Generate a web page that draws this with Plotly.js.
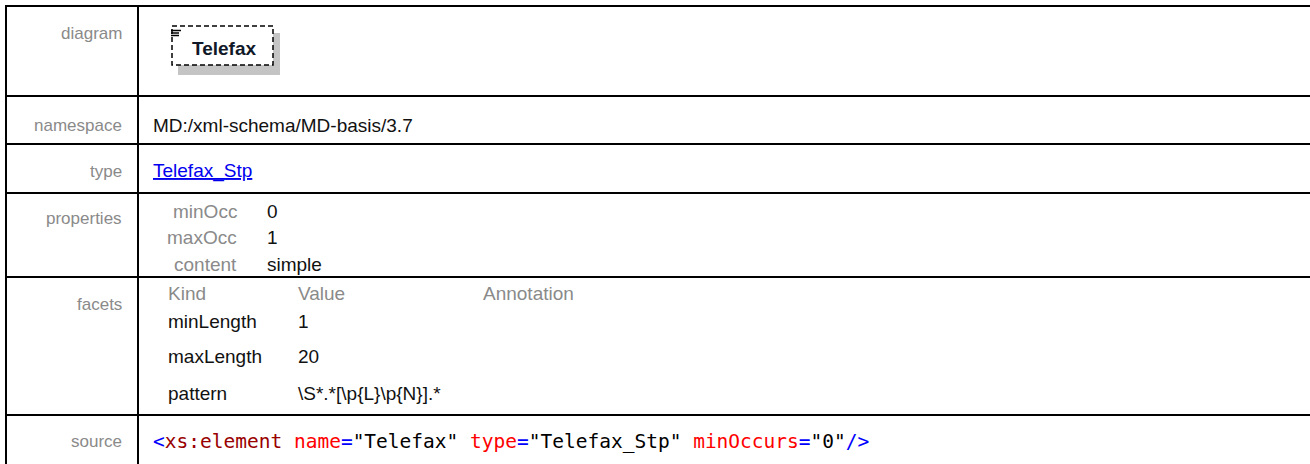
<!DOCTYPE html>
<html><head><meta charset="utf-8">
<script src="https://cdn.plot.ly/plotly-3.0.1.min.js"></script>
<style>html,body{margin:0;padding:0;background:#fff;overflow:hidden}</style>
</head><body><div id="chart" style="width:1310px;height:464px"></div>
<script>
// ---- content ----
const rowLabels = ['diagram', 'namespace', 'type', 'properties', 'facets', 'source'];
const elementName = 'Telefax';
const namespaceText = 'MD:/xml-schema/MD-basis/3.7';
const typeName = 'Telefax_Stp';
const propNames = ['minOcc', 'maxOcc', 'content'];
const propValues = ['0', '1', 'simple'];
const facetHeaders = ['Kind', 'Value', 'Annotation'];
const facetKinds = ['minLength', 'maxLength', 'pattern'];
const facetValues = ['1', '20', '\\S*.*[\\p{L}\\p{N}].*'];
const sourceTokens = ['<', 'xs:element', ' ', 'name', '=', '"Telefax"', ' ', 'type', '=', '"Telefax_Stp"', ' ', 'minOccurs', '=', '"0"', '/>'];
const sourceKinds  = ['punct', 'tag', 'space', 'attr', 'punct', 'value', 'space', 'attr', 'punct', 'value', 'space', 'attr', 'punct', 'value', 'punct'];

// ---- styling / layout ----
const W = 1310, H = 464;
const SANS = 'Liberation Sans, Arial, sans-serif';
const LABEL_FONT = {family: SANS, size: 17, color: '#8a8a8a'};
const SUBLABEL_FONT = {family: SANS, size: 19, color: '#8a8a8a'};
const TEXT_FONT = {family: SANS, size: 19, color: '#111111'};
const kindColor = {punct: '#0000ff', tag: '#990000', attr: '#ff0000', value: '#000000', space: '#000000'};

const colX = 138;
const rowLines = [6, 96, 144, 193, 277, 415];
const labelY = [33, 125, 171, 218, 304, 441];

function esc(s) { return s.replace(/&/g, '&amp;').replace(/</g, '&lt;').replace(/>/g, '&gt;'); }

const ann = [];
function addText(x, y, text, font, xanchor, yanchor) {
  ann.push({x: x, y: y, xref: 'x', yref: 'y', text: text, showarrow: false,
            xanchor: xanchor || 'left', yanchor: yanchor || 'middle', font: font,
            align: xanchor === 'right' ? 'right' : 'left'});
}

rowLabels.forEach((l, i) => addText(124, labelY[i], l, LABEL_FONT, 'right'));

// diagram box text
addText(224, 48, '<b>' + elementName + '</b>', {family: SANS, size: 19, color: '#101828'}, 'center');

addText(151, labelY[1], esc(namespaceText), TEXT_FONT);
addText(151, labelY[2], '<u>' + esc(typeName) + '</u>', {family: SANS, size: 19, color: '#0000ee'});

const propY = [211, 237, 264];
propNames.forEach((n, i) => {
  addText(239, propY[i], n, SUBLABEL_FONT, 'right');
  addText(265, propY[i], esc(propValues[i]), TEXT_FONT);
});

const facetHeaderX = [166, 296, 481];
facetHeaders.forEach((h, i) => addText(facetHeaderX[i], 293, h, SUBLABEL_FONT));
const facetY = [321, 356, 393];
facetKinds.forEach((k, i) => {
  addText(166, facetY[i], k, TEXT_FONT);
  addText(296, facetY[i], esc(facetValues[i]), TEXT_FONT);
});

const srcHtml = sourceTokens.map((t, i) => sourceKinds[i] === 'space' ? ' ' :
  '<span style="color:' + kindColor[sourceKinds[i]] + '">' + esc(t) + '</span>').join('');
addText(151, 441, srcHtml, {family: 'DejaVu Sans Mono, monospace', size: 19.5, color: '#000'});

// ---- shapes ----
const shapes = [];
const ln = {color: '#000', width: 2};
rowLines.forEach(y => shapes.push({type: 'line', xref: 'x', yref: 'y', x0: 5, x1: W, y0: y, y1: y, line: ln}));
shapes.push({type: 'line', xref: 'x', yref: 'y', x0: 6, x1: 6, y0: 6, y1: H, line: ln});
shapes.push({type: 'line', xref: 'x', yref: 'y', x0: colX, x1: colX, y0: 6, y1: H, line: ln});
// diagram element box
shapes.push({type: 'rect', xref: 'x', yref: 'y', x0: 178, x1: 280, y0: 33, y1: 75, fillcolor: '#c4c4c4', line: {width: 0}, layer: 'below'});
shapes.push({type: 'rect', xref: 'x', yref: 'y', x0: 172, x1: 273, y0: 26, y1: 65, fillcolor: '#ffffff', line: {color: '#000', width: 1.5, dash: '5px,3px'}, layer: 'below'});
[[30.5, 181], [33, 179], [35.5, 179]].forEach(p => shapes.push({type: 'line', xref: 'x', yref: 'y', x0: 171, x1: p[1], y0: p[0], y1: p[0], line: {color: '#000', width: 1.5}}));

const layout = {
  width: W, height: H, margin: {l: 0, r: 0, t: 0, b: 0},
  paper_bgcolor: '#fff', plot_bgcolor: '#fff',
  xaxis: {range: [0, W], visible: false, fixedrange: true},
  yaxis: {range: [H, 0], visible: false, fixedrange: true},
  showlegend: false, shapes: shapes, annotations: ann
};
Plotly.newPlot('chart', [{x: [], y: [], type: 'scatter'}], layout, {staticPlot: true});
</script></body></html>
